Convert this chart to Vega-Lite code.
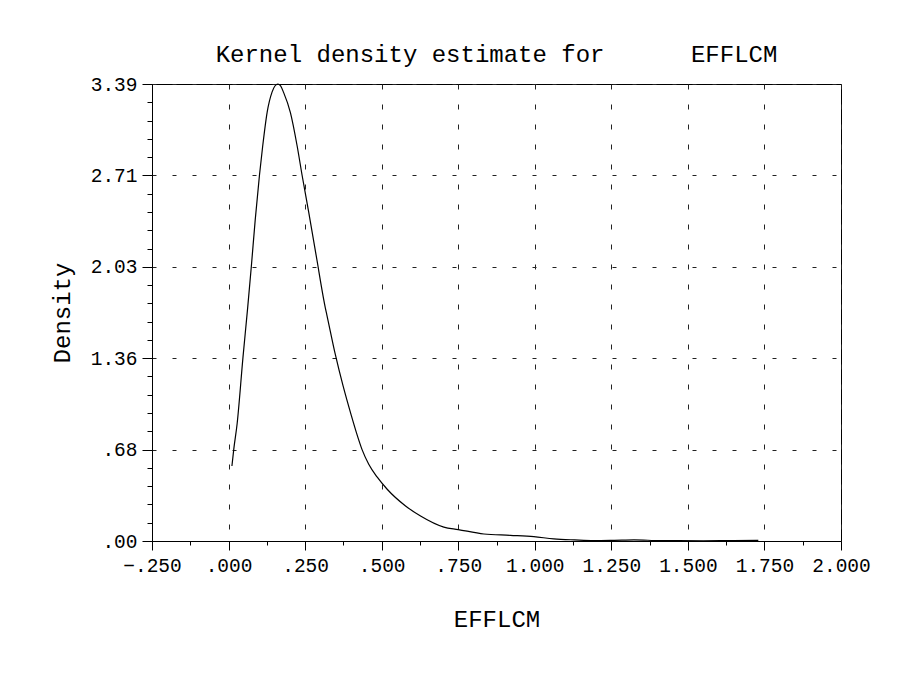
{
  "$schema": "https://vega.github.io/schema/vega-lite/v6.json",
  "width": 689,
  "height": 457,
  "autosize": {"type": "none"},
  "padding": {"left": 152, "top": 84, "right": 67, "bottom": 138},
  "background": "white",
  "title": {
    "text": "Kernel density estimate for\u00a0\u00a0\u00a0\u00a0\u00a0\u00a0EFFLCM",
    "font": "Liberation Mono",
    "fontSize": 24,
    "fontWeight": "normal",
    "color": "#000",
    "anchor": "middle",
    "frame": "group",
    "offset": 7
  },
  "config": {
    "view": {"stroke": "#000", "strokeWidth": 1},
    "axis": {
      "labelFont": "Liberation Mono",
      "labelFontSize": 19.5,
      "labelColor": "#000",
      "titleFont": "Liberation Mono",
      "titleFontSize": 24,
      "titleFontWeight": "normal",
      "titleColor": "#000",
      "domainColor": "#000",
      "tickColor": "#000",
      "gridColor": "#222",
      "gridWidth": 1,
      "labelOverlap": false,
      "labelFlush": false,
      "labelBound": false
    }
  },
  "data": {
    "values": [
      {"x": 0.011, "density": 0.556},
      {"x": 0.017, "density": 0.68},
      {"x": 0.028, "density": 0.87},
      {"x": 0.047, "density": 1.36},
      {"x": 0.062, "density": 1.72},
      {"x": 0.0745, "density": 2.04},
      {"x": 0.087, "density": 2.38},
      {"x": 0.101, "density": 2.715},
      {"x": 0.1115, "density": 2.93},
      {"x": 0.126, "density": 3.18},
      {"x": 0.142, "density": 3.33},
      {"x": 0.152, "density": 3.377},
      {"x": 0.161, "density": 3.39},
      {"x": 0.170, "density": 3.376},
      {"x": 0.180, "density": 3.326},
      {"x": 0.202, "density": 3.178},
      {"x": 0.224, "density": 2.93},
      {"x": 0.240, "density": 2.715},
      {"x": 0.262, "density": 2.436},
      {"x": 0.292, "density": 2.04},
      {"x": 0.300, "density": 1.93},
      {"x": 0.316, "density": 1.73},
      {"x": 0.3218, "density": 1.669},
      {"x": 0.349, "density": 1.38},
      {"x": 0.374, "density": 1.15},
      {"x": 0.401, "density": 0.93},
      {"x": 0.4175, "density": 0.804},
      {"x": 0.436, "density": 0.678},
      {"x": 0.4578, "density": 0.57},
      {"x": 0.485, "density": 0.475},
      {"x": 0.518, "density": 0.384},
      {"x": 0.578, "density": 0.26},
      {"x": 0.627, "density": 0.185},
      {"x": 0.703, "density": 0.103},
      {"x": 0.750, "density": 0.085},
      {"x": 0.834, "density": 0.052},
      {"x": 0.92, "density": 0.042},
      {"x": 0.997, "density": 0.032},
      {"x": 1.062, "density": 0.016},
      {"x": 1.13, "density": 0.008},
      {"x": 1.193, "density": 0.003},
      {"x": 1.26, "density": 0.005},
      {"x": 1.324, "density": 0.008},
      {"x": 1.41, "density": 0.003},
      {"x": 1.55, "density": 0.002},
      {"x": 1.65, "density": 0.003},
      {"x": 1.73, "density": 0.004}
    ]
  },
  "mark": {"type": "line", "color": "#000", "strokeWidth": 1.2, "interpolate": "monotone"},
  "encoding": {
    "x": {
      "field": "x",
      "type": "quantitative",
      "scale": {"domain": [-0.25, 2.0], "nice": false, "zero": false},
      "axis": {
        "title": "EFFLCM",
        "titlePadding": 33,
        "values": [-0.25, -0.125, 0, 0.125, 0.25, 0.375, 0.5, 0.625, 0.75, 0.875, 1, 1.125, 1.25, 1.375, 1.5, 1.625, 1.75, 1.875, 2.0],
        "labelExpr": "abs(datum.value*4 - round(datum.value*4)) < 0.000001 ? replace(format(datum.value, '.3f'), '0.', '.') : ''",
        "labelPadding": 6,
        "tickSize": {"condition": {"test": "abs(datum.value*4 - round(datum.value*4)) > 0.000001", "value": 4}, "value": 9},
        "grid": true,
        "gridDash": [5, 15],
        "gridOpacity": {"condition": {"test": "abs(datum.value*4 - round(datum.value*4)) > 0.000001", "value": 0}, "value": 1}
      }
    },
    "y": {
      "field": "density",
      "type": "quantitative",
      "scale": {"domain": [0, 3.39], "nice": false},
      "axis": {
        "title": "Density",
        "titlePadding": 16,
        "values": [0, 0.1356, 0.2712, 0.4068, 0.5424, 0.678, 0.8136, 0.9492, 1.0848, 1.2204, 1.356, 1.4916, 1.6272, 1.7628, 1.8984, 2.034, 2.1696, 2.3052, 2.4408, 2.5764, 2.712, 2.8476, 2.9832, 3.1188, 3.2544, 3.39],
        "labelExpr": "round(datum.value/0.1356) % 5 === 0 ? replace(format(datum.value, '.2f'), '0.', '.') : ''",
        "labelPadding": 5,
        "tickSize": {"condition": {"test": "round(datum.value/0.1356) % 5 !== 0", "value": 5}, "value": 10},
        "grid": true,
        "gridDash": [4, 16],
        "gridOpacity": {"condition": {"test": "round(datum.value/0.1356) % 5 !== 0", "value": 0}, "value": 1}
      }
    }
  }
}
